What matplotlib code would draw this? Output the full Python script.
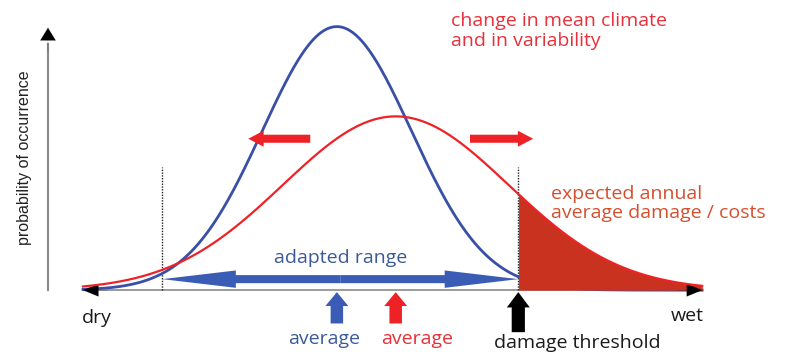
import numpy as np
import matplotlib.pyplot as plt

# present-day and future climate distributions (mean, standard deviation)
current_mean, current_sd = 4.1, 1.2
future_mean, future_sd = 5.05, 1.82
# coping range of the system and the threshold where damage begins
adapted_low, damage_threshold = 1.28, 7.03
x_dry, x_wet = 0.0, 10.0
# horizontal arrows showing the shift in spread (tail, tip)
spread_left = (3.67, 2.67)
spread_right = (6.25, 7.27)

BLUE = '#3a4fa6'
BLUE_ARROW = '#3b5cb5'
BLUE_TEXT = '#3c5a98'
RED = '#ee2226'
RED_FILL = '#c9321f'
RED_TEXT = '#e8303a'
DAMAGE_TEXT = '#d3502f'
GREY = '#8a8a8a'

TEXT_FONT = ['Open Sans', 'DejaVu Sans']
NARROW_FONT = ['Liberation Sans Narrow', 'Liberation Sans', 'DejaVu Sans']
FS = 14
FW = 'medium'


def normal_pdf(x, mu, sd):
    return np.exp(-0.5 * ((x - mu) / sd) ** 2) / (sd * np.sqrt(2 * np.pi))


fig = plt.figure(figsize=(8.05, 3.52), dpi=100)
ax = fig.add_axes([0, 0, 1, 1])
ax.set_xlim(-1.34, 11.66)
ax.set_ylim(-0.078, 0.366)
ax.axis('off')

x = np.linspace(x_dry, x_wet, 500)
current = normal_pdf(x, current_mean, current_sd)
future = normal_pdf(x, future_mean, future_sd)

# axes with arrow heads
ax.plot([x_dry, x_wet], [0, 0], color=GREY, lw=1.2, zorder=1)
for tip, back in ((x_dry, x_dry + 0.4), (x_wet, x_wet - 0.4)):
    ax.annotate('', xy=(tip, 0), xytext=(back, 0),
                arrowprops=dict(arrowstyle='-|>,head_length=1.1,head_width=0.45',
                                color='black', lw=0.1, shrinkA=0, shrinkB=0,
                                mutation_scale=10), zorder=4)
y_axis_x = -0.565
ax.plot([y_axis_x, y_axis_x], [0, 0.31], color=GREY, lw=1.5, zorder=1)
ax.annotate('', xy=(y_axis_x, 0.331), xytext=(y_axis_x, 0.30),
            arrowprops=dict(arrowstyle='-|>,head_length=0.9,head_width=0.55',
                            color='black', lw=0.1, shrinkA=0, shrinkB=0,
                            mutation_scale=10), zorder=4)

# dotted limits of the adapted range
for xv in (adapted_low, damage_threshold):
    ax.plot([xv, xv], [0, 0.155], color='#222222', lw=1.0, ls=(0, (1, 1)), zorder=2)

# distributions
ax.plot(x, current, color=BLUE, lw=2.0, zorder=3)
tail = x >= damage_threshold
ax.fill_between(x[tail], 0, future[tail], color=RED_FILL, lw=0, zorder=3.5)
ax.plot(x, future, color=RED, lw=1.6, zorder=4)

# adapted range double arrow
mid = (adapted_low + damage_threshold) / 2
y_range = 0.0139
for end in (adapted_low, damage_threshold):
    ax.annotate('', xy=(end, y_range), xytext=(mid, y_range),
                arrowprops=dict(arrowstyle='simple,head_length=53,head_width=12.5,tail_width=5.8',
                                color=BLUE_ARROW, lw=0, shrinkA=0, shrinkB=0,
                                mutation_scale=1), zorder=5)
ax.text(mid, 0.041, 'adapted range', color=BLUE_TEXT, fontsize=FS, fontweight=FW,
        family=TEXT_FONT, ha='center', va='center')

# shift / spread arrows
for tail_x, tip_x in (spread_left, spread_right):
    y_arr = 0.191
    ax.annotate('', xy=(tip_x, y_arr), xytext=(tail_x, y_arr),
                arrowprops=dict(arrowstyle='simple,head_length=11,head_width=11.5,tail_width=5.8',
                                color=RED, lw=0, shrinkA=0, shrinkB=0,
                                mutation_scale=1), zorder=5)

# arrows marking the two averages and the threshold
y_tip, y_tail = -0.0025, -0.042
for xv, col in ((current_mean, BLUE_ARROW), (future_mean, RED)):
    ax.annotate('', xy=(xv, y_tip), xytext=(xv, y_tail),
                arrowprops=dict(arrowstyle='simple,head_length=10,head_width=16.5,tail_width=9',
                                color=col, lw=0, shrinkA=0, shrinkB=0,
                                mutation_scale=1), zorder=5)
ax.annotate('', xy=(damage_threshold, y_tip), xytext=(damage_threshold, -0.053),
            arrowprops=dict(arrowstyle='simple,head_length=11,head_width=16.5,tail_width=9.5',
                            color='black', lw=0, shrinkA=0, shrinkB=0,
                            mutation_scale=1), zorder=5)

ax.text(current_mean - 0.2, -0.062, 'average', color=BLUE_TEXT, fontsize=FS, fontweight=FW,
        family=TEXT_FONT, ha='center', va='center')
ax.text(future_mean + 0.35, -0.062, 'average', color=RED_TEXT, fontsize=FS, fontweight=FW,
        family=TEXT_FONT, ha='center', va='center')
ax.text(damage_threshold + 0.95, -0.067, 'damage threshold', color='#1a1a1a', fontsize=FS,
        fontweight=FW, family=TEXT_FONT, ha='center', va='center')
ax.text(x_dry + 0.23, -0.035, 'dry', color='#1a1a1a', fontsize=FS, fontweight=FW,
        family=TEXT_FONT, ha='center', va='center')
ax.text(x_wet - 0.24, -0.032, 'wet', color='#1a1a1a', fontsize=FS, fontweight=FW,
        family=TEXT_FONT, ha='center', va='center')

ax.text(5.95, 0.327, 'change in mean climate\nand in variability', color=RED_TEXT,
        fontsize=FS, fontweight=FW, family=TEXT_FONT, ha='left', va='center', linespacing=1.15)
ax.text(7.56, 0.109, 'expected annual\naverage damage / costs', color=DAMAGE_TEXT,
        fontsize=FS, fontweight=FW, family=TEXT_FONT, ha='left', va='center', linespacing=1.1)

ax.text(-0.94, 0.1667, 'probability of occurrence', color='#222222', fontsize=11.5,
        family=NARROW_FONT, rotation=90, ha='center', va='center')

fig.savefig('out.png', dpi=100)
